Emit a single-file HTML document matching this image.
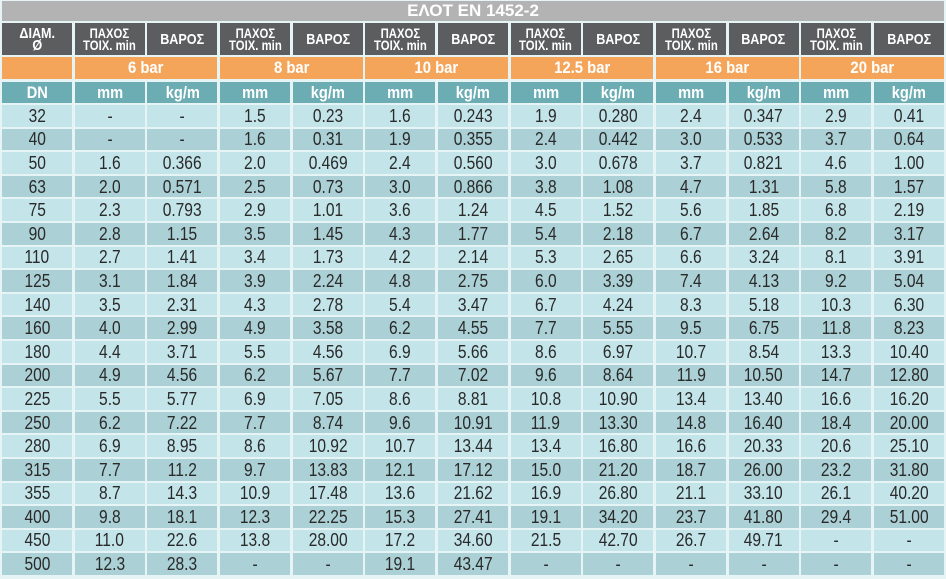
<!DOCTYPE html>
<html>
<head>
<meta charset="utf-8">
<style>
html,body{margin:0;padding:0;}
body{width:946px;height:579px;background:#e7f4f6;position:relative;overflow:hidden;font-family:"Liberation Sans",sans-serif;}
.blk{position:absolute;left:2px;width:942px;display:grid;grid-template-columns:repeat(13,1fr);column-gap:2.6px;}
.blk>div{display:flex;align-items:center;justify-content:center;text-align:center;overflow:hidden;}
.blk>div span{display:inline-block;white-space:nowrap;}
#title{position:absolute;left:2px;top:1px;width:942px;height:20px;background:#b3b3b3;color:#fff;font-weight:bold;font-size:17px;display:flex;align-items:center;justify-content:center;}
#hdr{top:23px;height:32px;}
#hdr>div{background:#5b5d5f;color:#fff;font-weight:bold;}
.two{font-size:13.5px;line-height:11.5px;}
.two span{transform:scaleX(0.84);padding-top:1px;}
.one{font-size:15px;}
.one span{transform:scaleX(0.84);}
.diam{font-size:15px;line-height:11.5px;}
.diam span{transform:scaleX(0.84);padding-top:1px;}
#org{top:57px;height:22px;}
#org>div{background:#f4a55a;color:#fff;font-weight:bold;font-size:16.5px;}
#org>div span{transform:scaleX(0.9);}
.s2{grid-column:span 2;}
#teal{top:82px;height:21px;}
#teal>div{background:#6cadb3;color:#fff;font-weight:bold;font-size:17px;}
#teal>div span{transform:scaleX(0.86);}
#data{top:105px;grid-template-rows:repeat(20,21.6px);row-gap:2px;}
#data>div{font-size:18.5px;color:#2a2a2a;}
#data>div span{transform:scaleX(0.84);}
#data>div.l{background:#c3e5ea;}
#data>div.d{background:#abd0d5;}
</style>
</head>
<body>
<div id="title">ΕΛΟΤ EN 1452-2</div>
<div class="blk" id="hdr">
<div class="diam"><span>ΔΙΑΜ.<br>Ø</span></div>
<div class="two"><span>ΠΑΧΟΣ<br>ΤΟΙΧ. min</span></div><div class="one"><span>ΒΑΡΟΣ</span></div>
<div class="two"><span>ΠΑΧΟΣ<br>ΤΟΙΧ. min</span></div><div class="one"><span>ΒΑΡΟΣ</span></div>
<div class="two"><span>ΠΑΧΟΣ<br>ΤΟΙΧ. min</span></div><div class="one"><span>ΒΑΡΟΣ</span></div>
<div class="two"><span>ΠΑΧΟΣ<br>ΤΟΙΧ. min</span></div><div class="one"><span>ΒΑΡΟΣ</span></div>
<div class="two"><span>ΠΑΧΟΣ<br>ΤΟΙΧ. min</span></div><div class="one"><span>ΒΑΡΟΣ</span></div>
<div class="two"><span>ΠΑΧΟΣ<br>ΤΟΙΧ. min</span></div><div class="one"><span>ΒΑΡΟΣ</span></div>
</div>
<div class="blk" id="org">
<div></div>
<div class="s2"><span>6 bar</span></div><div class="s2"><span>8 bar</span></div><div class="s2"><span>10 bar</span></div><div class="s2"><span>12.5 bar</span></div><div class="s2"><span>16 bar</span></div><div class="s2"><span>20 bar</span></div>
</div>
<div class="blk" id="teal">
<div><span>DN</span></div>
<div><span>mm</span></div><div><span>kg/m</span></div><div><span>mm</span></div><div><span>kg/m</span></div><div><span>mm</span></div><div><span>kg/m</span></div><div><span>mm</span></div><div><span>kg/m</span></div><div><span>mm</span></div><div><span>kg/m</span></div><div><span>mm</span></div><div><span>kg/m</span></div>
</div>
<div class="blk" id="data"></div>
<script>
var rows=[
"32 - - 1.5 0.23 1.6 0.243 1.9 0.280 2.4 0.347 2.9 0.41",
"40 - - 1.6 0.31 1.9 0.355 2.4 0.442 3.0 0.533 3.7 0.64",
"50 1.6 0.366 2.0 0.469 2.4 0.560 3.0 0.678 3.7 0.821 4.6 1.00",
"63 2.0 0.571 2.5 0.73 3.0 0.866 3.8 1.08 4.7 1.31 5.8 1.57",
"75 2.3 0.793 2.9 1.01 3.6 1.24 4.5 1.52 5.6 1.85 6.8 2.19",
"90 2.8 1.15 3.5 1.45 4.3 1.77 5.4 2.18 6.7 2.64 8.2 3.17",
"110 2.7 1.41 3.4 1.73 4.2 2.14 5.3 2.65 6.6 3.24 8.1 3.91",
"125 3.1 1.84 3.9 2.24 4.8 2.75 6.0 3.39 7.4 4.13 9.2 5.04",
"140 3.5 2.31 4.3 2.78 5.4 3.47 6.7 4.24 8.3 5.18 10.3 6.30",
"160 4.0 2.99 4.9 3.58 6.2 4.55 7.7 5.55 9.5 6.75 11.8 8.23",
"180 4.4 3.71 5.5 4.56 6.9 5.66 8.6 6.97 10.7 8.54 13.3 10.40",
"200 4.9 4.56 6.2 5.67 7.7 7.02 9.6 8.64 11.9 10.50 14.7 12.80",
"225 5.5 5.77 6.9 7.05 8.6 8.81 10.8 10.90 13.4 13.40 16.6 16.20",
"250 6.2 7.22 7.7 8.74 9.6 10.91 11.9 13.30 14.8 16.40 18.4 20.00",
"280 6.9 8.95 8.6 10.92 10.7 13.44 13.4 16.80 16.6 20.33 20.6 25.10",
"315 7.7 11.2 9.7 13.83 12.1 17.12 15.0 21.20 18.7 26.00 23.2 31.80",
"355 8.7 14.3 10.9 17.48 13.6 21.62 16.9 26.80 21.1 33.10 26.1 40.20",
"400 9.8 18.1 12.3 22.25 15.3 27.41 19.1 34.20 23.7 41.80 29.4 51.00",
"450 11.0 22.6 13.8 28.00 17.2 34.60 21.5 42.70 26.7 49.71 - -",
"500 12.3 28.3 - - 19.1 43.47 - - - - - -"
];
var h="";
rows.forEach(function(r,i){
  var c=(i%2==0)?"l":"d";
  r.split(" ").forEach(function(v){h+='<div class="'+c+'"><span>'+v+'</span></div>';});
});
document.getElementById("data").innerHTML=h;
</script>
</body>
</html>
